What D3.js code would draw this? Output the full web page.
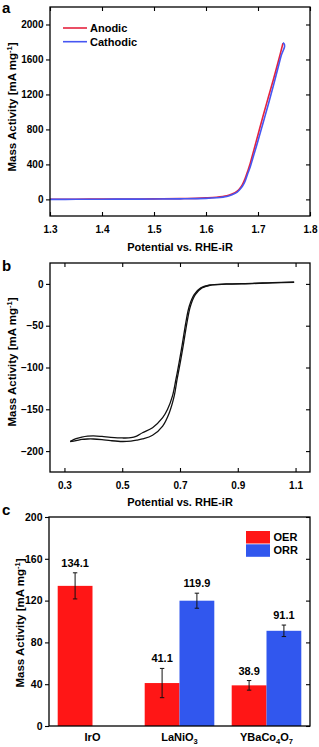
<!DOCTYPE html>
<html>
<head>
<meta charset="utf-8">
<script src="https://cdn.jsdelivr.net/npm/d3@7"></script>
<style>
  body { margin: 0; background: #fff; }
  svg { display: block; }
  text { font-family: "Liberation Sans", Arial, sans-serif; font-weight: bold; fill: #000; }
</style>
</head>
<body>
<svg id="fig" width="319" height="747"></svg>
<script>
/* ── data ─────────────────────────────────────────────────────────── */

// (a) OER sweep, potential [V] vs mass activity [mA mg-1]
const anodicPotential = [1.30, 1.35, 1.40, 1.45, 1.50, 1.55, 1.58, 1.60, 1.62, 1.64, 1.65, 1.66,
  1.665, 1.67, 1.675, 1.68, 1.685, 1.69, 1.70, 1.71, 1.72, 1.73, 1.74, 1.748];
const anodicActivity = [1, 2, 3, 4, 6, 9, 12, 17, 25, 42, 62, 95,
  125, 170, 235, 320, 410, 520, 740, 960, 1170, 1380, 1600, 1785];
const cathodicPotential = [1.748, 1.7505, 1.751, 1.745, 1.74, 1.73, 1.72, 1.71, 1.70, 1.69, 1.685,
  1.68, 1.675, 1.67, 1.665, 1.66, 1.65, 1.64, 1.62, 1.60, 1.55, 1.50, 1.45, 1.40, 1.35, 1.30];
const cathodicActivity = [1792, 1775, 1745, 1650, 1540, 1310, 1090, 880, 670, 470, 370,
  290, 205, 150, 112, 82, 52, 33, 18, 11, 6, 4, 3, 2, 1, 0];

// (b) ORR sweep, two branches
const orrUpperPotential = [0.32, 0.34, 0.36, 0.38, 0.40, 0.43, 0.46, 0.50, 0.53, 0.55, 0.57, 0.605,
  0.64, 0.657, 0.674, 0.686, 0.697, 0.709, 0.72, 0.732, 0.749, 0.772, 0.80, 0.86, 0.95, 1.02, 1.095];
const orrUpperActivity = [-188.5, -185, -183.3, -182.2, -181.8, -182.5, -183.5, -184.3, -184, -182, -178, -172,
  -160, -150, -134, -114, -94, -70, -46.5, -26.7, -12.8, -4.8, -1.6, 0, 0.6, 1.5, 2];
const orrLowerPotential = [0.32, 0.34, 0.36, 0.38, 0.40, 0.43, 0.46, 0.50, 0.53, 0.55, 0.57, 0.605,
  0.64, 0.663, 0.68, 0.69, 0.701, 0.713, 0.724, 0.736, 0.753, 0.776, 0.804, 0.86, 0.95, 1.02, 1.095];
const orrLowerActivity = [-188.5, -187.5, -186, -185.5, -185.5, -186.3, -187.5, -188.5, -188, -187, -185.5, -181,
  -170, -154, -134, -114, -94, -70, -46.5, -26.7, -12.8, -4.8, -1.6, -0.3, 0.4, 1.3, 2];

// (c) bar chart
const catalysts = ["IrO", "LaNiO3", "YBaCo4O7"];
const reactions = ["OER", "ORR"];
const oerValues = [134.1, 41.1, 38.9];
const oerErrors = [12.5, 14, 4.6];
const orrValues = [null, 119.9, 91.1];
const orrErrors = [null, 7.2, 5.5];

const xTicksA = [1.3, 1.4, 1.5, 1.6, 1.7, 1.8];
const yTicksA = [0, 400, 800, 1200, 1600, 2000];
const xTicksB = [0.3, 0.5, 0.7, 0.9, 1.1];
const yTicksB = [0, -50, -100, -150, -200];
const yTicksC = [0, 40, 80, 120, 160, 200];

/* ── styling ──────────────────────────────────────────────────────── */

const RED_LINE = "#e5223e";
const BLUE_LINE = "#4656f2";
const RED_BAR = "#ff1616";
const BLUE_BAR = "#3157ee";
const YTITLE = "Mass Activity [mA mg";
const XTITLE = "Potential vs. RHE-iR";

const svg = d3.select("#fig");

/* ── helpers ──────────────────────────────────────────────────────── */

function frame(box) {
  svg.append("rect")
    .attr("x", box.left).attr("y", box.top)
    .attr("width", box.right - box.left).attr("height", box.bottom - box.top)
    .attr("fill", "none").attr("stroke", "#000").attr("stroke-width", 1.3);
}

function styleAxis(g, fontSize) {
  g.select(".domain").remove();
  g.selectAll(".tick line").attr("stroke", "#000").attr("stroke-width", 1.1);
  g.selectAll(".tick text").attr("font-size", fontSize).attr("fill", "#000")
    .attr("font-family", "Liberation Sans, Arial, sans-serif").attr("font-weight", "bold");
}

function axesFor(box, x, y, xTicks, yTicks, fmtX, fmtY, fs) {
  const gl = svg.append("g").attr("transform", `translate(${box.left},0)`)
    .call(d3.axisLeft(y).tickValues(yTicks).tickSize(4).tickPadding(2.5).tickFormat(fmtY));
  styleAxis(gl, fs);
  const gr = svg.append("g").attr("transform", `translate(${box.right},0)`)
    .call(d3.axisRight(y).tickValues(yTicks).tickSize(-4).tickFormat(""));
  styleAxis(gr, fs);
  if (x) {
    const gb = svg.append("g").attr("transform", `translate(0,${box.bottom})`)
      .call(d3.axisBottom(x).tickValues(xTicks).tickSize(-4).tickPadding(10).tickFormat(fmtX));
    styleAxis(gb, fs);
    const gt = svg.append("g").attr("transform", `translate(0,${box.top})`)
      .call(d3.axisTop(x).tickValues(xTicks).tickSize(-4).tickFormat(""));
    styleAxis(gt, fs);
  }
}

function yTitle(xPos, yMid) {
  const t = svg.append("text")
    .attr("transform", `translate(${xPos},${yMid}) rotate(-90)`)
    .attr("text-anchor", "middle").attr("font-size", 11.5);
  t.append("tspan").text(YTITLE);
  t.append("tspan").attr("dy", -4).attr("font-size", 7.5).text("-1");
  t.append("tspan").attr("dy", 4).text("]");
}

function xTitle(xMid, yBase) {
  svg.append("text").attr("x", xMid).attr("y", yBase)
    .attr("text-anchor", "middle").attr("font-size", 11).text(XTITLE);
}

function panelLabel(s, x, y) {
  svg.append("text").attr("x", x).attr("y", y).attr("font-size", 15).text(s);
}

// chemical formula with subscripted digits
function chemLabel(sel, name) {
  let sub = false;
  name.split(/(\d+)/).filter(p => p).forEach(p => {
    const isNum = /^\d+$/.test(p);
    const dy = isNum ? 2.8 : (sub ? -2.8 : 0);
    sel.append("tspan").attr("dy", dy).attr("font-size", isNum ? 7.5 : null).text(p);
    sub = isNum;
  });
}

const curve = d3.curveCatmullRom.alpha(0.5);

function drawLine(x, y, xs, ys, color, width) {
  const pts = xs.map((v, i) => [v, ys[i]]);
  svg.append("path").datum(pts)
    .attr("d", d3.line().x(d => x(d[0])).y(d => y(d[1])).curve(curve))
    .attr("fill", "none").attr("stroke", color).attr("stroke-width", width)
    .attr("stroke-linejoin", "round");
}

/* ── panel a ──────────────────────────────────────────────────────── */

const boxA = { left: 50, right: 310, top: 7, bottom: 216 };
const xA = d3.scaleLinear().domain([1.3, 1.8]).range([boxA.left, boxA.right]);
const yA = d3.scaleLinear().domain([-190, 2200]).range([boxA.bottom, boxA.top]);

drawLine(xA, yA, anodicPotential, anodicActivity, RED_LINE, 1.6);
drawLine(xA, yA, cathodicPotential, cathodicActivity, BLUE_LINE, 1.6);
frame(boxA);
axesFor(boxA, xA, yA, xTicksA, yTicksA, d3.format(".1f"), d3.format("d"), 10);

const legendA = [["Anodic", RED_LINE], ["Cathodic", BLUE_LINE]];
legendA.forEach(([name, col], i) => {
  const ly = 28 + i * 13.7;
  svg.append("line").attr("x1", 63).attr("x2", 87).attr("y1", ly).attr("y2", ly)
    .attr("stroke", col).attr("stroke-width", 1.6);
  svg.append("text").attr("x", 90).attr("y", ly + 4).attr("font-size", 11).text(name);
});

yTitle(15.5, 107);
xTitle(180, 251);
panelLabel("a", 2, 13);

/* ── panel b ──────────────────────────────────────────────────────── */

const boxB = { left: 50, right: 310, top: 263, bottom: 472 };
const xB = d3.scaleLinear().domain([0.25, 1.15]).range([boxB.left, boxB.right]);
const yB = d3.scaleLinear().domain([-225, 25]).range([boxB.bottom, boxB.top]);

drawLine(xB, yB, orrUpperPotential, orrUpperActivity, "#111", 1.3);
drawLine(xB, yB, orrLowerPotential, orrLowerActivity, "#111", 1.3);
frame(boxB);
axesFor(boxB, xB, yB, xTicksB, yTicksB, d3.format(".1f"), d3.format("d"), 10);

yTitle(16, 362);
xTitle(180, 506);
panelLabel("b", 2, 271);

/* ── panel c ──────────────────────────────────────────────────────── */

const boxC = { left: 49, right: 310, top: 517, bottom: 726 };
const xC = d3.scaleBand().domain(catalysts).range([boxC.left, boxC.right])
  .paddingInner(0.2).paddingOuter(0.1);
const xSub = d3.scaleBand().domain(reactions).range([0, xC.bandwidth()]);
const yC = d3.scaleLinear().domain([0, 200]).range([boxC.bottom, boxC.top]);
const colorC = d3.scaleOrdinal().domain(reactions).range([RED_BAR, BLUE_BAR]);

const bars = [];
catalysts.forEach((c, i) => {
  bars.push({ cat: c, rx: "OER", v: oerValues[i], e: oerErrors[i] });
  if (orrValues[i] != null) bars.push({ cat: c, rx: "ORR", v: orrValues[i], e: orrErrors[i] });
});

svg.append("g").selectAll("rect").data(bars).join("rect")
  .attr("x", d => xC(d.cat) + xSub(d.rx))
  .attr("y", d => yC(d.v))
  .attr("width", xSub.bandwidth())
  .attr("height", d => yC(0) - yC(d.v))
  .attr("fill", d => colorC(d.rx));

const eb = svg.append("g").attr("stroke", "#111").attr("stroke-width", 1);
bars.forEach(d => {
  const cx = xC(d.cat) + xSub(d.rx) + xSub.bandwidth() / 2;
  eb.append("line").attr("x1", cx).attr("x2", cx).attr("y1", yC(d.v + d.e)).attr("y2", yC(d.v - d.e));
  [d.v + d.e, d.v - d.e].forEach(v => {
    eb.append("line").attr("x1", cx - 2.2).attr("x2", cx + 2.2).attr("y1", yC(v)).attr("y2", yC(v));
  });
  svg.append("text").attr("x", cx).attr("y", yC(d.v + d.e) - 6)
    .attr("text-anchor", "middle").attr("font-size", 11).text(d.v.toFixed(1));
});

frame(boxC);
axesFor(boxC, null, yC, null, yTicksC, null, d3.format("d"), 10.5);

catalysts.forEach(c => {
  const t = svg.append("text").attr("x", xC(c) + xC.bandwidth() / 2).attr("y", 741)
    .attr("text-anchor", "middle").attr("font-size", 11);
  chemLabel(t, c);
});

reactions.forEach((r, i) => {
  const ly = 531 + i * 13.3;
  svg.append("rect").attr("x", 246).attr("y", ly).attr("width", 24).attr("height", 12.5)
    .attr("fill", colorC(r));
  svg.append("text").attr("x", 273.5).attr("y", ly + 10).attr("font-size", 11).text(r);
});

yTitle(23.5, 623);
panelLabel("c", 2, 515);
</script>
</body>
</html>
